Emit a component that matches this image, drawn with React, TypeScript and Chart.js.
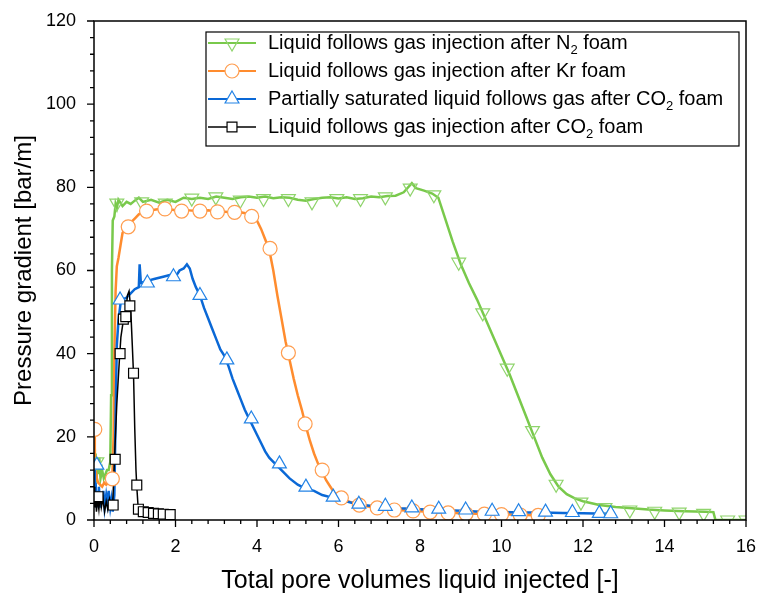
import React, { useEffect, useRef } from "react";
import { Chart, registerables } from "chart.js";

Chart.register(...registerables);

const FONT = '"Liberation Sans", Arial, Helvetica, sans-serif';

// ---- axes ----
const xMin = 0;
const xMax = 16;
const xStep = 2;
const yMin = 0;
const yMax = 120;
const yStep = 20;
const minorDivisions = 5;

const xTitle = "Total pore volumes liquid injected [-]";
const yTitle = "Pressure gradient [bar/m]";

// ---- legend labels (parts: normal, subscript, normal) ----
const legendN2 = ["Liquid follows gas injection after N", "2", " foam"];
const legendKr = ["Liquid follows gas injection after Kr foam"];
const legendPartCO2 = ["Partially saturated liquid follows gas after CO", "2", " foam"];
const legendCO2 = ["Liquid follows gas injection after CO", "2", " foam"];

// ---- N2 foam (green) line ----
const n2X = [0, 0.02, 0.04, 0.06, 0.08, 0.1, 0.13, 0.16, 0.2, 0.24, 0.28, 0.32, 0.36, 0.4, 0.42, 0.44, 0.46, 0.5, 0.53, 0.56, 0.6, 0.7, 0.8, 0.9, 1.0, 1.1, 1.2, 1.4, 1.6, 1.8, 2.0, 2.2, 2.4, 2.6, 2.8, 3.0, 3.2, 3.4, 3.6, 3.8, 4.0, 4.2, 4.4, 4.6, 4.8, 5.0, 5.2, 5.4, 5.6, 5.8, 6.0, 6.2, 6.4, 6.6, 6.8, 7.0, 7.2, 7.4, 7.6, 7.8, 7.9, 8.1, 8.3, 8.45, 8.6, 8.8, 9.0, 9.2, 9.4, 9.6, 9.8, 10.0, 10.2, 10.4, 10.6, 10.8, 11.0, 11.2, 11.4, 11.6, 11.8, 12.0, 12.4, 12.8, 13.2, 13.6, 14.0, 14.5, 15.0, 15.2, 15.25, 16.0];
const n2Y = [17, 12, 16, 9, 14, 11, 15, 10, 12, 10, 11, 12, 12, 14, 30, 60, 72, 73, 76, 75, 77, 75.5, 76.5, 76, 76.8, 77.5, 76.5, 77, 76.3, 77, 76.5, 77.5, 77.2, 77.5, 77.2, 77.8, 77.5, 77.2, 77.6, 77.8, 77.5, 77.8, 77.4, 77.6, 77.5, 77.0, 76.8, 77.2, 77.5, 77.6, 77.3, 77.6, 77.2, 77.4, 77.8, 77.6, 77.9, 78.0, 78.8, 81.0, 79.8, 79.2, 78.5, 77.5, 73, 67, 61.5, 57, 53, 48.5, 44, 39.5, 35, 30, 25, 20, 15, 11, 8, 6.2, 5.2, 4.5, 3.6, 3.1, 2.8, 2.5, 2.3, 2.1, 2.0, 1.9, 0, 0];
const n2MarkX = [0.07, 0.56, 1.17, 1.75, 2.4, 2.99, 3.59, 4.16, 4.77, 5.35, 5.96, 6.54, 7.15, 7.76, 8.34, 8.95, 9.54, 10.14, 10.76, 11.34, 11.95, 12.54, 13.15, 13.76, 14.36, 14.96, 15.55, 16.0];
const n2MarkY = [14, 76.2, 76.5, 76.2, 77.4, 77.7, 76.9, 77.3, 77.3, 76.5, 77.3, 77.3, 77.7, 79.8, 78.2, 62, 49.8, 36.5, 21.5, 8.6, 4.3, 3.0, 2.4, 2.1, 1.9, 1.6, 0, 0];

// ---- Kr foam (orange) line ----
const krX = [0, 0.02, 0.04, 0.07, 0.1, 0.15, 0.2, 0.25, 0.3, 0.35, 0.4, 0.45, 0.48, 0.5, 0.53, 0.56, 0.6, 0.65, 0.7, 0.8, 0.9, 1.0, 1.1, 1.2, 1.4, 1.6, 1.8, 2.0, 2.2, 2.4, 2.6, 2.8, 3.0, 3.2, 3.4, 3.6, 3.8, 3.9, 4.0, 4.1, 4.2, 4.3, 4.4, 4.5, 4.6, 4.7, 4.8, 4.9, 5.0, 5.1, 5.2, 5.3, 5.4, 5.5, 5.6, 5.7, 5.8, 5.9, 6.0, 6.2, 6.4, 6.6, 6.8, 7.0, 7.4, 7.8, 8.2, 8.6, 9.0, 9.4, 9.8, 10.2, 10.6, 10.9];
const krY = [22, 16, 12, 10, 9, 8.5, 8, 9, 8.5, 9, 9.5, 10, 20, 40, 55, 61, 63, 66, 69, 70.5, 71.5, 72.5, 73.5, 74, 74.5, 74.8, 74.8, 74.5, 74.6, 74.4, 74.3, 74.5, 74.2, 74.1, 74.0, 74.0, 73.6, 73.2, 72, 70, 67.5, 65, 60, 54, 48.5, 43, 38.5, 34, 30, 26.5, 22.5, 19, 16, 13.5, 11.5, 9.5, 8, 6.5, 5.5, 4.6, 4.0, 3.5, 3.1, 2.8, 2.4, 2.2, 2.0, 1.8, 1.6, 1.5, 1.4, 1.3, 1.2, 1.1];
const krMarkX = [0.02, 0.45, 0.84, 1.29, 1.74, 2.15, 2.6, 3.03, 3.45, 3.87, 4.32, 4.77, 5.18, 5.6, 6.07, 6.51, 6.95, 7.37, 7.83, 8.25, 8.69, 9.13, 9.58, 10.0, 10.46, 10.9];
const krMarkY = [21.8, 9.9, 70.5, 74.3, 74.8, 74.3, 74.3, 74.1, 74.0, 73.0, 65.3, 40.2, 23.1, 12.0, 5.3, 3.6, 2.9, 2.4, 2.2, 1.9, 1.7, 1.5, 1.4, 1.3, 1.2, 1.1];

// ---- partially saturated, CO2 foam (blue) line ----
const pcX = [0, 0.02, 0.04, 0.06, 0.08, 0.1, 0.12, 0.15, 0.18, 0.2, 0.23, 0.26, 0.3, 0.33, 0.36, 0.4, 0.43, 0.46, 0.5, 0.53, 0.56, 0.6, 0.65, 0.7, 0.8, 0.9, 1.0, 1.1, 1.12, 1.15, 1.3, 1.5, 1.7, 1.9, 2.0, 2.1, 2.2, 2.28, 2.35, 2.42, 2.5, 2.6, 2.7, 2.8, 2.9, 3.0, 3.1, 3.2, 3.3, 3.4, 3.5, 3.6, 3.7, 3.8, 3.9, 4.0, 4.1, 4.2, 4.3, 4.4, 4.5, 4.6, 4.8, 5.0, 5.2, 5.4, 5.6, 5.8, 6.0, 6.3, 6.6, 7.0, 7.5, 8.0, 8.5, 9.0, 9.5, 10.0, 10.5, 11.0, 11.5, 12.0, 12.6];
const pcY = [12, 5, 9, 3, 7, 4, 8, 3, 6, 4, 7, 3, 6, 4, 7, 3, 5, 2, 6, 25, 42, 48, 52, 53, 53.5, 54.5, 55.5, 56, 61.5, 57, 57.5, 58, 58.5, 59, 58.5, 60, 60.5, 61.5, 60.5, 58, 56, 54, 51, 48.5, 46, 43.5, 41, 39.5, 37, 34, 31.5, 29, 26.5, 24.5, 22.5, 20.5, 18.5, 16.5, 15, 14, 13, 12, 10, 8.5, 7.5, 7, 6, 5.5, 5, 4.2, 3.6, 3.2, 2.8, 2.6, 2.4, 2.2, 2.0, 1.9, 1.8, 1.8, 1.7, 1.6, 1.5];
const pcMarkX = [0.07, 0.64, 1.31, 1.95, 2.6, 3.26, 3.86, 4.55, 5.2, 5.87, 6.5, 7.15, 7.8, 8.46, 9.12, 9.77, 10.42, 11.08, 11.74, 12.4, 12.68];
const pcMarkY = [13.2, 52.9, 57, 58.5, 54, 38.5, 24.3, 13.5, 7.9, 5.5, 3.8, 3.3, 2.9, 2.6, 2.4, 2.1, 2.0, 1.9, 1.8, 1.6, 1.5];

// ---- CO2 foam (black) line ----
const co2X = [0, 0.02, 0.04, 0.06, 0.09, 0.12, 0.15, 0.18, 0.22, 0.26, 0.3, 0.34, 0.38, 0.42, 0.46, 0.5, 0.56, 0.62, 0.66, 0.72, 0.78, 0.82, 0.86, 0.9, 0.94, 0.97, 1.0, 1.03, 1.05, 1.08, 1.1, 1.2, 1.3, 1.4, 1.5, 1.6, 1.7, 1.8, 1.9];
const co2Y = [8, 3, 6, 2, 5, 2.5, 6, 3, 5, 2, 4.5, 2.5, 5, 3, 4, 14, 28, 38, 44, 48, 50, 54, 55, 51, 42, 35, 22, 12, 8, 3.5, 2.6, 2.2, 1.9, 1.7, 1.6, 1.5, 1.4, 1.4, 1.3];
const co2MarkX = [0.1, 0.47, 0.52, 0.64, 0.72, 0.78, 0.88, 0.97, 1.05, 1.09, 1.21, 1.33, 1.46, 1.58, 1.7, 1.87];
const co2MarkY = [5.6, 3.6, 14.6, 40, 48.3, 48.9, 51.5, 35.3, 8.4, 2.6, 2.0, 1.8, 1.6, 1.5, 1.4, 1.3];

// ---- styles ----
const GREEN = "#79c94b";
const GREEN_MARK = "#8fd46c";
const ORANGE = "#ff8c2e";
const ORANGE_MARK = "#ff9d4f";
const BLUE = "#0a68d6";
const BLUE_MARK = "#2383e6";
const BLACK = "#000000";

const zip = (xs: number[], ys: number[]) => xs.map((x, i) => ({ x, y: ys[i] }));

type Series = {
  label: string[];
  lineX: number[];
  lineY: number[];
  markX: number[];
  markY: number[];
  color: string;
  markColor: string;
  markFill: string;
  lineWidth: number;
  pointStyle: string;
  rotation: number;
  radius: number;
  order: number;
};

const series: Series[] = [
  { label: legendN2, lineX: n2X, lineY: n2Y, markX: n2MarkX, markY: n2MarkY, color: GREEN, markColor: GREEN_MARK, markFill: "rgba(255,255,255,0)", lineWidth: 2.5, pointStyle: "triangle", rotation: 180, radius: 8, order: 8 },
  { label: legendKr, lineX: krX, lineY: krY, markX: krMarkX, markY: krMarkY, color: ORANGE, markColor: ORANGE_MARK, markFill: "#ffffff", lineWidth: 2.5, pointStyle: "circle", rotation: 0, radius: 7, order: 7 },
  { label: legendPartCO2, lineX: pcX, lineY: pcY, markX: pcMarkX, markY: pcMarkY, color: BLUE, markColor: BLUE_MARK, markFill: "#ffffff", lineWidth: 2.5, pointStyle: "triangle", rotation: 0, radius: 8, order: 6 },
  { label: legendCO2, lineX: co2X, lineY: co2Y, markX: co2MarkX, markY: co2MarkY, color: BLACK, markColor: BLACK, markFill: "#ffffff", lineWidth: 1.5, pointStyle: "rect", rotation: 0, radius: 7, order: 5 },
];

const frameTicksPlugin = {
  id: "frameTicks",
  afterDatasetsDraw(chart: any) {
    const { ctx, chartArea: a, scales } = chart;
    ctx.save();
    ctx.strokeStyle = "#000";
    ctx.lineWidth = 1.5;
    ctx.strokeRect(a.left, a.top, a.right - a.left, a.bottom - a.top);
    ctx.lineWidth = 1.3;
    ctx.beginPath();
    const xs = scales.x;
    const xMinor = xStep / minorDivisions;
    const nx = Math.round((xMax - xMin) / xMinor);
    for (let i = 0; i <= nx; i++) {
      const px = xs.getPixelForValue(xMin + i * xMinor);
      const len = i % minorDivisions === 0 ? 7 : 4;
      ctx.moveTo(px, a.bottom);
      ctx.lineTo(px, a.bottom + len);
    }
    const ys = scales.y;
    const yMinor = yStep / minorDivisions;
    const ny = Math.round((yMax - yMin) / yMinor);
    for (let i = 0; i <= ny; i++) {
      const py = ys.getPixelForValue(yMin + i * yMinor);
      const len = i % minorDivisions === 0 ? 7 : 4;
      ctx.moveTo(a.left, py);
      ctx.lineTo(a.left - len, py);
    }
    ctx.stroke();
    ctx.restore();
  },
};

function drawMarker(ctx: CanvasRenderingContext2D, s: Series, x: number, y: number) {
  ctx.save();
  ctx.strokeStyle = s.markColor;
  ctx.fillStyle = s.markFill;
  ctx.lineWidth = 1.2;
  ctx.beginPath();
  const r = s.radius;
  if (s.pointStyle === "circle") {
    ctx.arc(x, y, r, 0, Math.PI * 2);
  } else if (s.pointStyle === "rect") {
    const h = r * Math.SQRT1_2;
    ctx.rect(x - h, y - h, 2 * h, 2 * h);
  } else {
    let rad = (s.rotation * Math.PI) / 180;
    for (let k = 0; k < 3; k++) {
      const px = x + Math.sin(rad) * r;
      const py = y - Math.cos(rad) * r;
      if (k === 0) ctx.moveTo(px, py);
      else ctx.lineTo(px, py);
      rad += (2 * Math.PI) / 3;
    }
    ctx.closePath();
  }
  ctx.fill();
  ctx.stroke();
  ctx.restore();
}

const legendPlugin = {
  id: "customLegend",
  afterDraw(chart: any) {
    const { ctx } = chart;
    const boxL = 206, boxT = 32, boxR = 739, boxB = 146;
    ctx.save();
    ctx.fillStyle = "#ffffff";
    ctx.fillRect(boxL, boxT, boxR - boxL, boxB - boxT);
    ctx.strokeStyle = "#000";
    ctx.lineWidth = 1.2;
    ctx.strokeRect(boxL, boxT, boxR - boxL, boxB - boxT);
    const rowY0 = 43;
    const rowGap = 28;
    series.forEach((s, i) => {
      const y = rowY0 + i * rowGap;
      ctx.strokeStyle = s.color;
      ctx.lineWidth = s.color === BLACK ? 1.5 : 1.8;
      ctx.beginPath();
      ctx.moveTo(208, y);
      ctx.lineTo(256, y);
      ctx.stroke();
      drawMarker(ctx, s, 232, y);
      let x = 268;
      ctx.fillStyle = "#000";
      ctx.textBaseline = "middle";
      ctx.textAlign = "left";
      s.label.forEach((part, j) => {
        const isSub = j === 1;
        ctx.font = (isSub ? "13px " : "20px ") + FONT;
        ctx.fillText(part, x, isSub ? y + 7 : y);
        x += ctx.measureText(part).width;
      });
    });
    ctx.restore();
  },
};

export default function App() {
  const ref = useRef<HTMLCanvasElement | null>(null);
  useEffect(() => {
    if (!ref.current) return;
    const datasets: any[] = [];
    series.forEach((s) => {
      datasets.push({
        data: zip(s.lineX, s.lineY),
        borderColor: s.color,
        borderWidth: s.lineWidth,
        pointRadius: 0,
        fill: false,
        tension: 0,
        order: s.order + 10,
      });
    });
    series.forEach((s) => {
      datasets.push({
        data: zip(s.markX, s.markY),
        showLine: false,
        pointStyle: s.pointStyle,
        pointRotation: s.rotation,
        pointRadius: s.radius,
        pointBorderColor: s.markColor,
        pointBackgroundColor: s.markFill,
        pointBorderWidth: 1.2,
        clip: 0,
        order: s.order,
      });
    });
    const chart = new Chart(ref.current, {
      type: "line",
      data: { datasets },
      options: {
        responsive: false,
        animation: false,
        events: [],
        layout: { padding: { left: 0, top: 21, right: 13, bottom: 0 } },
        plugins: { legend: { display: false }, tooltip: { enabled: false } },
        scales: {
          x: {
            type: "linear",
            min: xMin,
            max: xMax,
            afterFit: (sc: any) => {
              sc.height = 76;
              sc.paddingLeft = 0;
              sc.paddingRight = 0;
            },
            grid: { display: false, drawTicks: false },
            border: { display: false },
            ticks: { stepSize: xStep, padding: 16, color: "#000", font: { family: FONT, size: 18 } },
            title: { display: true, text: xTitle, color: "#000", font: { family: FONT, size: 25 }, padding: { top: 0, bottom: 0 } },
          },
          y: {
            type: "linear",
            min: yMin,
            max: yMax,
            afterFit: (sc: any) => {
              sc.width = 94;
              sc.paddingTop = 0;
              sc.paddingBottom = 0;
            },
            grid: { display: false, drawTicks: false },
            border: { display: false },
            ticks: { stepSize: yStep, padding: 18, color: "#000", font: { family: FONT, size: 18 } },
            title: { display: true, text: yTitle, color: "#000", font: { family: FONT, size: 24 }, padding: { top: 10, bottom: 0 } },
          },
        },
      } as any,
      plugins: [frameTicksPlugin, legendPlugin],
    });
    return () => chart.destroy();
  }, []);
  return (
    <div style={{ position: "fixed", left: 0, top: 0, width: 759, height: 596, background: "#fff" }}>
      <canvas ref={ref} width={759} height={596} style={{ display: "block" }} />
    </div>
  );
}
